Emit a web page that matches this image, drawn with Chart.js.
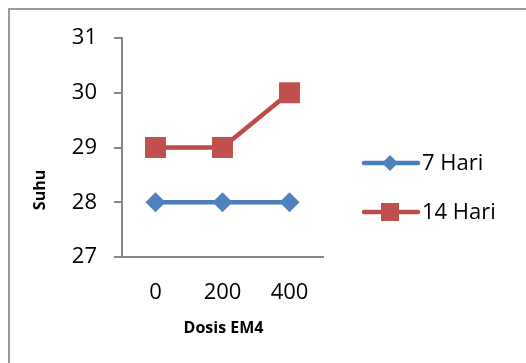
<!DOCTYPE html>
<html>
<head>
<meta charset="utf-8">
<script src="https://cdn.jsdelivr.net/npm/chart.js@4"></script>
<style>
  html, body { margin: 0; padding: 0; background: #ffffff; overflow: hidden; }
  #wrap { width: 526px; height: 363px; position: relative; }
</style>
</head>
<body>
<div id="wrap"><canvas id="c" width="526" height="363"></canvas></div>
<script>
// Dosis EM4 (categories) and temperature readings per series
const categories = ['0', '200', '400'];
const suhu7Hari = [28, 28, 28];
const suhu14Hari = [29, 29, 30];
const seriesNames = ['7 Hari', '14 Hari'];
const yMin = 27, yMax = 31, yStep = 1;
const xTitle = 'Dosis EM4';
const yTitle = 'Suhu';

const AXIS_GRAY = '#868686';
const TICK_FONT = { family: '"Open Sans", "Noto Sans", sans-serif', size: 22 };
const TITLE_FONT = 'bold 16px "Open Sans", "Noto Sans", sans-serif';

// Outer frame, axis titles and the line+marker legend
const decorations = {
  id: 'decorations',
  beforeDraw(chart) {
    const ctx = chart.ctx;
    ctx.save();
    ctx.fillStyle = '#ffffff';
    ctx.fillRect(0, 0, chart.width, chart.height);
    ctx.strokeStyle = '#999999';
    ctx.lineWidth = 2;
    ctx.strokeRect(9, 9, chart.width + 20, chart.height + 20);
    ctx.restore();
  },
  afterDraw(chart) {
    const ctx = chart.ctx;
    const area = chart.chartArea;
    ctx.save();
    ctx.fillStyle = '#000000';
    ctx.font = TITLE_FONT;
    ctx.textAlign = 'center';
    ctx.textBaseline = 'middle';
    ctx.fillText(xTitle, (area.left + area.right) / 2 + 1, 328);
    ctx.translate(40, 190);
    ctx.rotate(-Math.PI / 2);
    ctx.fillText(yTitle, 0, 0);
    ctx.restore();

    // legend entries
    const rows = [163, 212];
    chart.data.datasets.forEach((ds, i) => {
      const y = rows[i];
      ctx.save();
      ctx.strokeStyle = ds.borderColor;
      ctx.lineWidth = 4.5;
      ctx.lineCap = 'round';
      ctx.beginPath();
      ctx.moveTo(364, y);
      ctx.lineTo(418, y);
      ctx.stroke();
      ctx.fillStyle = ds.pointBackgroundColor;
      ctx.strokeStyle = ds.pointBackgroundColor;
      Chart.helpers.drawPoint(ctx, {
        pointStyle: ds.pointStyle,
        radius: ds.pointStyle === 'rect' ? 12.7 : 8,
        borderWidth: 0,
        rotation: 0
      }, 390, y);
      ctx.fillStyle = '#000000';
      ctx.font = '22px "Open Sans", "Noto Sans", sans-serif';
      ctx.textAlign = 'left';
      ctx.textBaseline = 'middle';
      ctx.fillText(ds.label, 422, y + 1);
      ctx.restore();
    });
  }
};

new Chart(document.getElementById('c'), {
  type: 'line',
  data: {
    labels: categories,
    datasets: [
      {
        label: seriesNames[0],
        data: suhu7Hari,
        borderColor: '#4A7EBB',
        borderWidth: 4.5,
        pointStyle: 'rectRot',
        pointRadius: 10,
        pointHoverRadius: 10,
        pointBackgroundColor: '#4F81BD',
        pointBorderColor: '#4F81BD',
        pointBorderWidth: 0,
        tension: 0
      },
      {
        label: seriesNames[1],
        data: suhu14Hari,
        borderColor: '#BE4B48',
        borderWidth: 4.5,
        pointStyle: 'rect',
        pointRadius: 14.8,
        pointHoverRadius: 14.8,
        pointBackgroundColor: '#C0504D',
        pointBorderColor: '#C0504D',
        pointBorderWidth: 0,
        tension: 0
      }
    ]
  },
  options: {
    responsive: false,
    animation: false,
    events: [],
    layout: { padding: { left: 0, top: 38, right: 203, bottom: 0 } },
    plugins: {
      legend: { display: false },
      tooltip: { enabled: false },
      title: { display: false }
    },
    scales: {
      x: {
        offset: true,
        grid: { display: true, drawOnChartArea: false, drawTicks: false },
        border: { display: true, color: AXIS_GRAY, width: 2 },
        ticks: { color: '#000000', font: TICK_FONT, padding: 23, maxRotation: 0 },
        afterFit(scale) { scale.height = 106; }
      },
      y: {
        min: yMin,
        max: yMax,
        grid: { display: true, drawOnChartArea: false, drawTicks: true, tickLength: 8, color: AXIS_GRAY, lineWidth: 2 },
        border: { display: true, color: AXIS_GRAY, width: 2 },
        ticks: { stepSize: yStep, color: '#000000', font: TICK_FONT, padding: 17 },
        afterFit(scale) { scale.width = 122; }
      }
    }
  },
  plugins: [decorations]
});
</script>
</body>
</html>
